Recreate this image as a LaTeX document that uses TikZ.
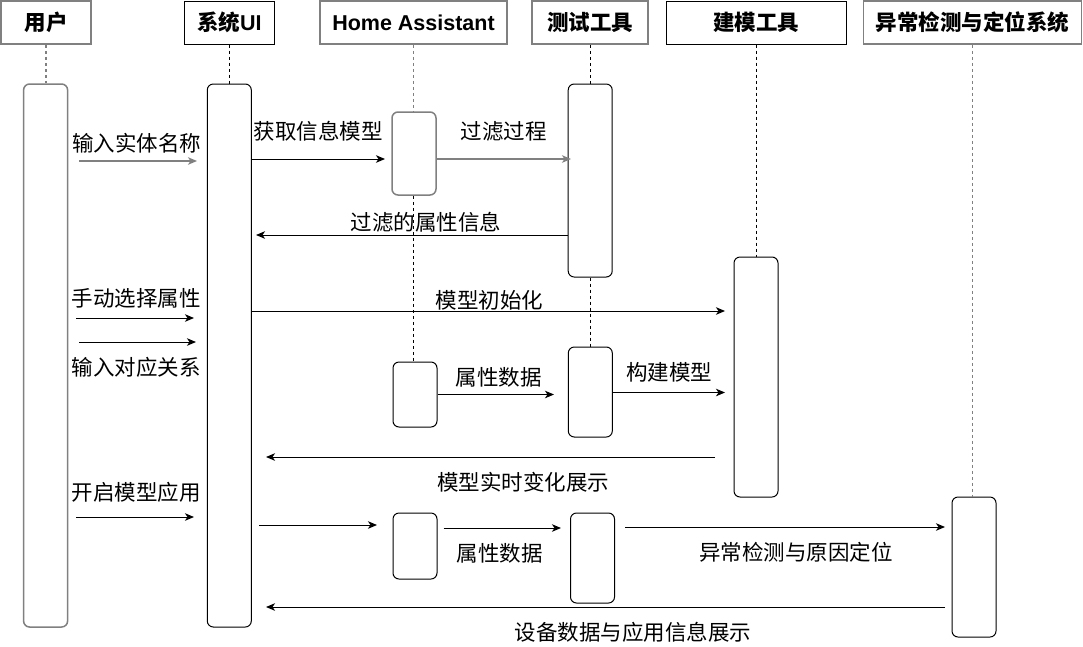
\documentclass[tikz,border=0pt]{standalone}
\usepackage{fontspec}
\setmainfont{Liberation Sans}
\newfontfamily\cjk{Noto Sans CJK SC}
\usetikzlibrary{arrows.meta}
\definecolor{softgray}{HTML}{808080}
\tikzset{
  hdr/.style={draw=black, line width=1pt, minimum height=43pt, inner sep=0pt,
    text height=20pt, text depth=3.6pt, font=\bfseries\fontsize{21.5}{24}\selectfont},
  hdrg/.style={hdr, draw=softgray, line width=1.5pt},
  actbar/.style={draw=black, rounded corners=6pt, line width=1pt, minimum width=44pt, inner sep=0pt},
  actbarg/.style={actbar, draw=softgray, line width=1.5pt},
  life/.style={draw=black, dash pattern=on 3pt off 3pt, line width=0.9pt},
  lifeg/.style={life, draw=softgray, line width=1.3pt},
  msg/.style={draw=black, line width=1pt, -{Stealth[length=9pt,width=7.5pt,inset=2.5pt]}},
  msgg/.style={msg, draw=softgray, line width=1.5pt, -{Stealth[length=9pt,width=7.5pt,inset=2.5pt,fill=black!70]}},
  lbl/.style={font=\cjk\fontsize{21.5}{24}\selectfont, anchor=base, inner sep=0pt},
}
\begin{document}
\begin{tikzpicture}[x=1pt,y=-1pt]
\useasboundingbox (0,0) rectangle (1083,646);
\fill[white] (0,0) rectangle (1083,646);

% headers
\node[hdrg, minimum width=90pt]  (hu) at (46,22.5)    {{\cjk 用户}};
\node[hdr,  minimum width=90.5pt] (hs) at (229.3,22.5) {{\cjk 系统}UI};
\node[hdrg, minimum width=187pt] (hh) at (413.5,22.5) {Home Assistant};
\node[hdrg, minimum width=116pt] (ht) at (590,22.5)   {{\cjk 测试工具}};
\node[hdr,  minimum width=180pt] (hm) at (756,22.5)   {{\cjk 建模工具}};
\node[hdrg, minimum width=218pt] (ha) at (972.5,22.5) {{\cjk 异常检测与定位系统}};

% activation bars
\node[actbarg, minimum height=543pt] (bu)  at (45.6,355.5) {};
\node[actbar,  minimum height=543pt] (bs)  at (229.3,355.5) {};
\node[actbarg, minimum height=83pt]  (bh1) at (414,153.5) {};
\node[actbar,  minimum height=193pt] (bt1) at (590.2,180.5) {};
\node[actbar,  minimum height=240pt] (bm)  at (756,377) {};
\node[actbar,  minimum height=65pt]  (bh2) at (415,394.5) {};
\node[actbar,  minimum height=90pt]  (bt2) at (590.3,392) {};
\node[actbar,  minimum height=66pt]  (bh3) at (415,546) {};
\node[actbar,  minimum height=90pt]  (bt3) at (592.5,558) {};
\node[actbar,  minimum height=140pt] (ba)  at (974,567) {};

% lifelines
\draw[lifeg] (hu.south) -- (hu.south |- bu.north);
\draw[life]  (hs.south) -- (hs.south |- bs.north);
\draw[lifeg] (hh.south) -- (hh.south |- bh1.north);
\draw[life]  (hh.south |- bh1.south) -- (hh.south |- bh2.north);
\draw[life]  (ht.south) -- (ht.south |- bt1.north);
\draw[life]  (ht.south |- bt1.south) -- (ht.south |- bt2.north);
\draw[life]  (hm.south) -- (hm.south |- bm.north);
\draw[lifeg] (ha.south) -- (ha.south |- ba.north);

% message end points
\coordinate (m1a) at (79,161);    \coordinate (m1b) at (197,161);
\coordinate (m2a) at (bs.east |- 0,159); \coordinate (m2b) at (385,159);
\coordinate (m3a) at (bh1.east |- 0,159); \coordinate (m3b) at (571,159);
\coordinate (m4a) at (bt1.west |- 0,235); \coordinate (m4b) at (256,235);
\coordinate (m5a) at (76.4,318);  \coordinate (m5b) at (194,318);
\coordinate (m6a) at (79,342);    \coordinate (m6b) at (196,342);
\coordinate (m7a) at (bs.east |- 0,311); \coordinate (m7b) at (725,311);
\coordinate (m8a) at (bh2.east |- 0,394.5); \coordinate (m8b) at (554,394.5);
\coordinate (m9a) at (bt2.east |- 0,392.5); \coordinate (m9b) at (725,392.5);
\coordinate (m10a) at (715,457); \coordinate (m10b) at (266,457);
\coordinate (m11a) at (76.4,517); \coordinate (m11b) at (194,517);
\coordinate (m12a) at (259,525); \coordinate (m12b) at (377,525);
\coordinate (m13a) at (443.5,528); \coordinate (m13b) at (561,528);
\coordinate (m14a) at (625,527); \coordinate (m14b) at (945,527);
\coordinate (m15a) at (945,607); \coordinate (m15b) at (266,607);

% messages
\draw[msgg] (m1a) -- (m1b);
\draw[msg]  (m2a) -- (m2b);
\draw[msgg] (m3a) -- (m3b);
\draw[msg]  (m4a) -- (m4b);
\draw[msg]  (m5a) -- (m5b);
\draw[msg]  (m6a) -- (m6b);
\draw[msg]  (m7a) -- (m7b);
\draw[msg]  (m8a) -- (m8b);
\draw[msg]  (m9a) -- (m9b);
\draw[msg]  (m10a) -- (m10b);
\draw[msg]  (m11a) -- (m11b);
\draw[msg]  (m12a) -- (m12b);
\draw[msg]  (m13a) -- (m13b);
\draw[msg]  (m14a) -- (m14b);
\draw[msg]  (m15a) -- (m15b);

% labels
\node[lbl] (l1)  at (136.5,151.3) {输入实体名称};
\node[lbl] (l2)  at (318.4,139.3) {获取信息模型};
\node[lbl] (l3)  at (503.5,139.3) {过滤过程};
\node[lbl] (l4)  at (426,230.3)   {过滤的属性信息};
\node[lbl] (l5)  at (136,306.3)   {手动选择属性};
\node[lbl] (l6)  at (136,375.3)   {输入对应关系};
\node[lbl] (l7)  at (489.6,308.3) {模型初始化};
\node[lbl] (l8)  at (498.6,385.3) {属性数据};
\node[lbl] (l9)  at (669,380.3)   {构建模型};
\node[lbl] (l10) at (523,490.3)   {模型实时变化展示};
\node[lbl] (l11) at (136,500.3)   {开启模型应用};
\node[lbl] (l13) at (499.5,561.3) {属性数据};
\node[lbl] (l14) at (796,560.3)   {异常检测与原因定位};
\node[lbl] (l15) at (633,640.3)   {设备数据与应用信息展示};
\end{tikzpicture}
\end{document}
